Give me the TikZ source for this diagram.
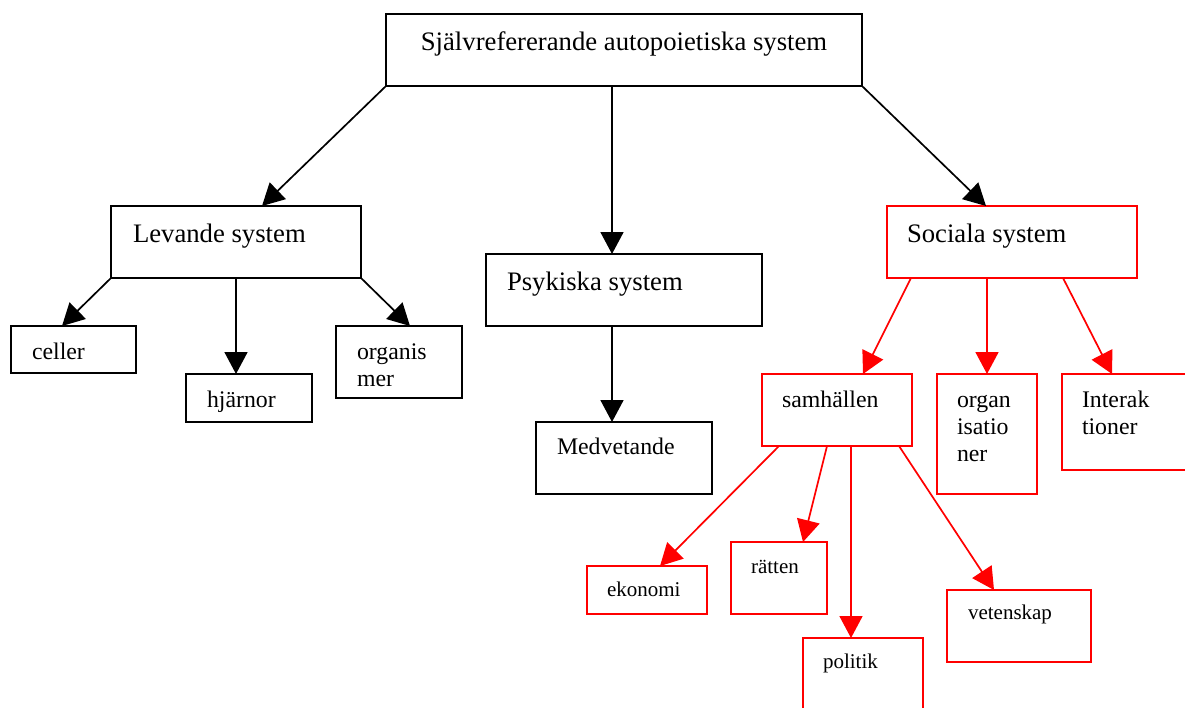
\documentclass[tikz,border=0pt]{standalone}
\usepackage{fontspec}
\setmainfont{Liberation Serif}
\usetikzlibrary{arrows.meta,calc}
\tikzset{
  box/.style={draw, line width=1.8pt, rectangle, anchor=north west, inner sep=0pt, outer sep=0pt},
  rbox/.style={box, draw=red},
  conn/.style={line width=1.7pt, -{Triangle[length=22pt,width=23pt]}},
  rconn/.style={conn, draw=red, fill=red},
  fA/.style={font=\fontsize{26.7}{30.7}\selectfont},
  fB/.style={font=\fontsize{23.8}{27.4}\selectfont},
  fC/.style={font=\fontsize{21}{24.2}\selectfont},
  txt/.style={anchor=base west, inner sep=0pt, outer sep=0pt},
}
\begin{document}
\begin{tikzpicture}[x=1pt,y=-1pt]
\useasboundingbox (0,0) rectangle (1185,707);
% boxes
\node[box, minimum width=476pt, minimum height=72pt] (top) at (386,14) {};
\node[box, minimum width=250pt, minimum height=72pt] (lev) at (111,206) {};
\node[box, minimum width=276pt, minimum height=72pt] (psy) at (486,254) {};
\node[rbox, minimum width=250pt, minimum height=72pt] (soc) at (887,206) {};
\node[box, minimum width=125pt, minimum height=47pt] (cel) at (11,326) {};
\node[box, minimum width=126pt, minimum height=48pt] (hja) at (186,374) {};
\node[box, minimum width=126pt, minimum height=72pt] (org) at (336,326) {};
\node[box, minimum width=176pt, minimum height=72pt] (med) at (536,422) {};
\node[rbox, minimum width=150pt, minimum height=72pt] (sam) at (762,374) {};
\node[rbox, minimum width=100pt, minimum height=120pt] (ogn) at (937,374) {};
\node[rbox, minimum width=150pt, minimum height=96pt] (int) at (1062,374) {};
\node[rbox, minimum width=120pt, minimum height=48pt] (eko) at (587,566) {};
\node[rbox, minimum width=96pt, minimum height=72pt] (rat) at (731,542) {};
\node[rbox, minimum width=120pt, minimum height=100pt] (pol) at (803,638) {};
\node[rbox, minimum width=144pt, minimum height=72pt] (vet) at (947,590) {};
% texts
\node[fA, anchor=base, inner sep=0pt] (topt) at ($(top.north)+(0,36)$) {Självrefererande autopoietiska system};
\node[fA, txt] (levt) at ($(lev.north west)+(22,36)$) {Levande system};
\node[fA, txt] (psyt) at ($(psy.north west)+(21,36)$) {Psykiska system};
\node[fA, txt] (soct) at ($(soc.north west)+(20,36)$) {Sociala system};
\node[fB, txt] (celt) at ($(cel.north west)+(21,33)$) {celler};
\node[fB, txt] (hjat) at ($(hja.north west)+(21,33)$) {hjärnor};
\node[fB, txt] (orgt) at ($(org.north west)+(21,33)$) {\vtop{\hbox{organis}\hbox{mer}}};
\node[fB, txt] (medt) at ($(med.north west)+(21,32)$) {Medvetande};
\node[fB, txt] (samt) at ($(sam.north west)+(20,33)$) {samhällen};
\node[fB, txt] (ognt) at ($(ogn.north west)+(20,33)$) {\vtop{\hbox{organ}\hbox{isatio}\hbox{ner}}};
\node[fB, txt] (intt) at ($(int.north west)+(20,33)$) {\vtop{\hbox{Interak}\hbox{tioner}}};
\node[fC, txt] (ekot) at ($(eko.north west)+(20,30)$) {ekonomi};
\node[fC, txt] (ratt) at ($(rat.north west)+(20,31)$) {rätten};
\node[fC, txt] (polt) at ($(pol.north west)+(20,30)$) {politik};
\node[fC, txt] (vett) at ($(vet.north west)+(21,29)$) {vetenskap};
% black connectors
\draw[conn] (top.south west) -- ($(lev.north west)+(151,0)$);
\draw[conn] ($(top.south west)+(226,0)$) -- ($(psy.north west)+(126,0)$);
\draw[conn] (top.south east) -- ($(soc.north west)+(99,0)$);
\draw[conn] (lev.south west) -- ($(cel.north west)+(51,0)$);
\draw[conn] (lev.south) -- (hja.north -| lev.south);
\draw[conn] (lev.south east) -- ($(org.north west)+(74,0)$);
\draw[conn] ($(psy.south west)+(126,0)$) -- ($(med.north west)+(76,0)$);
% red connectors
\draw[rconn] ($(soc.south west)+(24,0)$) -- ($(sam.north west)+(101,0)$);
\draw[rconn] (soc.south -| ogn.north) -- (ogn.north);
\draw[rconn] ($(soc.south west)+(176,0)$) -- ($(int.north west)+(50,0)$);
\draw[rconn] ($(sam.south west)+(17,0)$) -- ($(eko.north west)+(73,0)$);
\draw[rconn] ($(sam.south west)+(65,0)$) -- ($(rat.north west)+(72,0)$);
\coordinate (polx) at ($(sam.south west)+(89,0)$);
\draw[rconn] (polx) -- (polx |- pol.north);
\draw[rconn] ($(sam.south west)+(137,0)$) -- ($(vet.north west)+(47,0)$);
\end{tikzpicture}
\end{document}
